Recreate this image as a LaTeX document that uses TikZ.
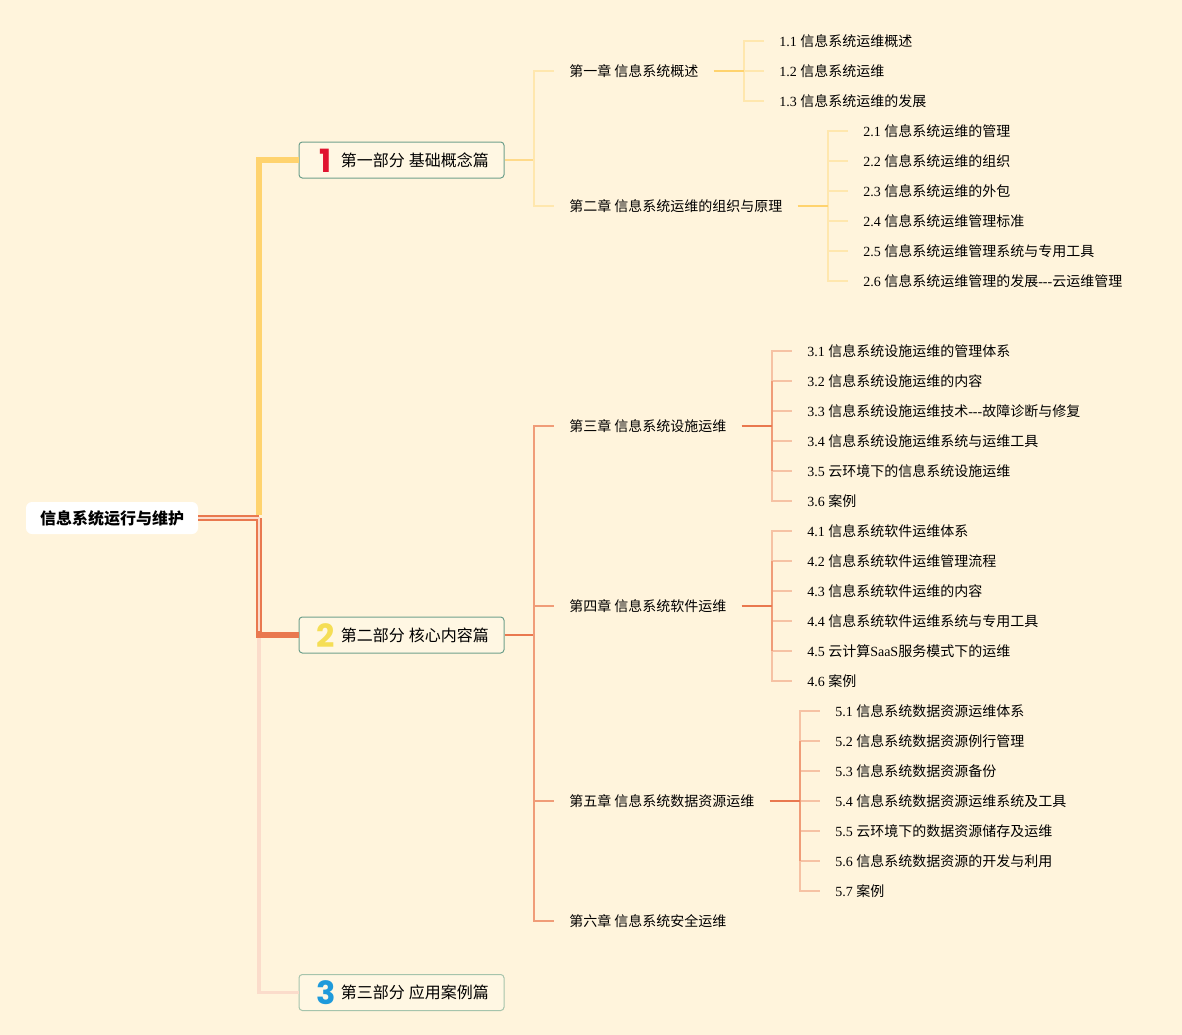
\documentclass[tikz,border=0pt]{standalone}
\usepackage{fontspec}
\setmainfont{Noto Sans CJK SC}
\newfontfamily\lat{Liberation Serif}
\newfontfamily\digitfont{Poppins}
\definecolor{paper}{HTML}{FFF4DC}
\definecolor{boxfill}{HTML}{FFF7E3}
\definecolor{boxline}{HTML}{6FA08C}
\definecolor{boxpale}{HTML}{A6C4AC}
\definecolor{yelmain}{HTML}{FFD36E}
\definecolor{yelmid}{HTML}{FFDA8A}
\definecolor{yelleaf}{HTML}{FFE7AE}
\definecolor{ormain}{HTML}{E9784F}
\definecolor{ormid}{HTML}{F09C78}
\definecolor{orleaf}{HTML}{F6C2A4}
\definecolor{pinkmain}{HTML}{FBDCCB}
\definecolor{numred}{HTML}{E0142F}
\definecolor{numyel}{HTML}{F5DE55}
\definecolor{numblue}{HTML}{1E9ADB}
\tikzset{
  root/.style={fill=white, rounded corners=4.5pt, minimum width=129pt, minimum height=24pt, inner sep=0pt, font=\fontsize{12}{14}\selectfont\bfseries},
  partbox/.style={draw=boxline, fill=boxfill, line width=0.75pt, rounded corners=2.5pt, minimum height=27pt, text width=131.25pt, inner xsep=11.25pt, inner ysep=0pt, align=right, font=\fontsize{12}{14}\selectfont},
  digit/.style={inner sep=0pt, font=\digitfont\bfseries\fontsize{24}{24}\selectfont},
  chapter/.style={anchor=west, inner xsep=11.25pt, inner ysep=0pt, font=\fontsize{10.5}{12}\selectfont},
  leaf/.style={anchor=west, inner xsep=11.25pt, inner ysep=0pt, font=\fontsize{10.5}{12}\selectfont},
}
\begin{document}
\begin{tikzpicture}[x=0.75pt, y=-0.75pt]
  \useasboundingbox (0,0) rectangle (1182,1035);
  \fill[paper] (0,0) rectangle (1182,1035);

  % top level
  \node[root] (main) at (112,518) {信息系统运行与维护};
  \node[partbox] (p1) at (401.5,160) {第一部分\hspace{3.1pt}基础概念篇};
  \node[partbox] (p2) at (401.5,635) {第二部分\hspace{3.1pt}核心内容篇};
  \node[partbox, draw=boxpale] (p3) at (401.5,992.5) {第三部分\hspace{3.1pt}应用案例篇};
  \node[digit, text=numred] (d1) at (326,160.5) {1};
  \node[digit, text=numyel] (d2) at (326,636) {2};
  \node[digit, text=numblue] (d3) at (326,993) {3};

  \coordinate (trunk) at (259,518);
  \draw[pinkmain, line width=2.4pt] (trunk) |- (p3.west);
  \draw[yelmain, line width=4.5pt] (259,515) |- (p1.west);
  \draw[ormain, line width=4.5pt] (trunk) |- (p2.west);
  \draw[ormain, line width=4.5pt] (main.east) -- (trunk);
  \draw[pinkmain, line width=1.7pt] (main.east) -- (trunk) -- (259,631);

  % chapters
  \coordinate (b1) at (534,160);
  \coordinate (b2) at (534,635);
  \node[chapter] (c1) at (554,71) {第一章 信息系统概述};
  \node[chapter] (c2) at (554,206) {第二章 信息系统运维的组织与原理};
  \node[chapter] (c3) at (554,426) {第三章 信息系统设施运维};
  \node[chapter] (c4) at (554,606) {第四章 信息系统软件运维};
  \node[chapter] (c5) at (554,801) {第五章 信息系统数据资源运维};
  \node[chapter] (c6) at (554,921) {第六章 信息系统安全运维};
  \draw[yelmid, line width=1.1pt] (p1.east) -- (b1);
  \draw[ormain, line width=1.1pt] (p2.east) -- (b2);
  \foreach \c in {c1,c2} \draw[yelleaf, line width=1.1pt] (b1) |- (\c.west);
  \foreach \c in {c3,c4,c5,c6} \draw[ormid, line width=1.1pt] (b2) |- (\c.west);

  % sections of chapter 1 and 2
  \coordinate (t1) at (744,71);
  \coordinate (t2) at (828,206);
  \foreach \n/\t [count=\i] in {1.1/信息系统运维概述, 1.2/信息系统运维, 1.3/信息系统运维的发展} {
    \node[leaf] (s1-\i) at (764,{11+30*\i}) {{\lat \n{} }\t};
    \draw[yelleaf, line width=1.1pt] (t1) |- (s1-\i.west);
  }
  \foreach \n/\t [count=\i] in {2.1/信息系统运维的管理, 2.2/信息系统运维的组织, 2.3/信息系统运维的外包, 2.4/信息系统运维管理标准, 2.5/信息系统运维管理系统与专用工具, 2.6/信息系统运维管理的发展{\lat ---}云运维管理} {
    \node[leaf] (s2-\i) at (848,{101+30*\i}) {{\lat \n{} }\t};
    \draw[yelleaf, line width=1.1pt] (t2) |- (s2-\i.west);
  }
  \draw[yelmain, line width=1.1pt] (c1.east) -- (t1);
  \draw[yelmain, line width=1.1pt] (c2.east) -- (t2);

  % sections of chapter 3, 4, 5
  \coordinate (t3) at (772,426);
  \coordinate (t4) at (772,606);
  \coordinate (t5) at (800,801);
  \foreach \n/\t [count=\i] in {3.1/信息系统设施运维的管理体系, 3.2/信息系统设施运维的内容, 3.3/信息系统设施运维技术{\lat ---}故障诊断与修复, 3.4/信息系统设施运维系统与运维工具, 3.5/云环境下的信息系统设施运维, 3.6/案例} {
    \node[leaf] (s3-\i) at (792,{321+30*\i}) {{\lat \n{} }\t};
    \draw[orleaf, line width=1.1pt] (t3) |- (s3-\i.west);
  }
  \foreach \n/\t [count=\i] in {4.1/信息系统软件运维体系, 4.2/信息系统软件运维管理流程, 4.3/信息系统软件运维的内容, 4.4/信息系统软件运维系统与专用工具, 4.5/云计算{\lat SaaS}服务模式下的运维, 4.6/案例} {
    \node[leaf] (s4-\i) at (792,{501+30*\i}) {{\lat \n{} }\t};
    \draw[orleaf, line width=1.1pt] (t4) |- (s4-\i.west);
  }
  \foreach \n/\t [count=\i] in {5.1/信息系统数据资源运维体系, 5.2/信息系统数据资源例行管理, 5.3/信息系统数据资源备份, 5.4/信息系统数据资源运维系统及工具, 5.5/云环境下的数据资源储存及运维, 5.6/信息系统数据资源的开发与利用, 5.7/案例} {
    \node[leaf] (s5-\i) at (820,{681+30*\i}) {{\lat \n{} }\t};
    \draw[orleaf, line width=1.1pt] (t5) |- (s5-\i.west);
  }
  \draw[ormid, line width=1.1pt] (s3-2.west -| t3) -- (s3-5.west -| t3);
  \draw[ormid, line width=1.1pt] (s4-2.west -| t4) -- (s4-5.west -| t4);
  \draw[ormid, line width=1.1pt] (s5-2.west -| t5) -- (s5-6.west -| t5);
  \draw[ormain, line width=1.1pt] (c3.east) -- (t3);
  \draw[ormain, line width=1.1pt] (c4.east) -- (t4);
  \draw[ormain, line width=1.1pt] (c5.east) -- (t5);
\end{tikzpicture}
\end{document}
